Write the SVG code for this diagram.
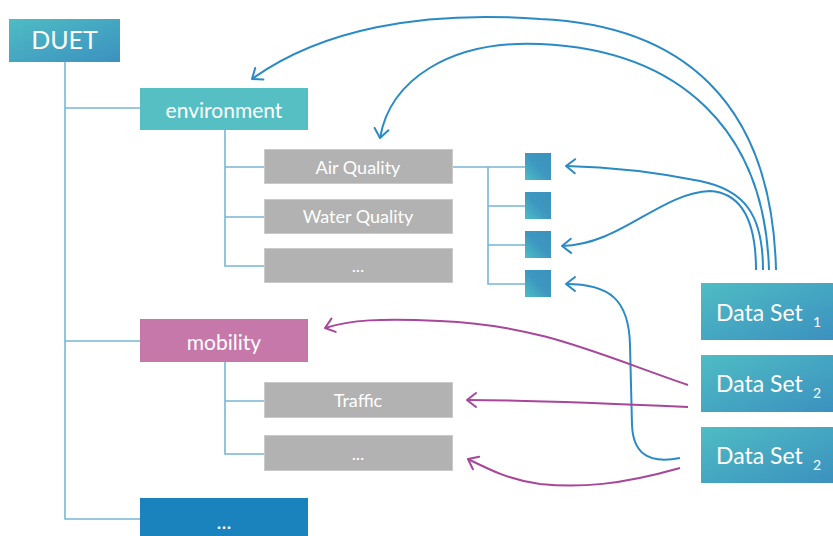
<svg xmlns="http://www.w3.org/2000/svg" width="833" height="536" viewBox="0 0 833 536">
  <defs>
    <linearGradient id="tealBlue" x1="0" y1="0" x2="1" y2="1">
      <stop offset="0" stop-color="#4fbcc4"/>
      <stop offset="1" stop-color="#3b91bf"/>
    </linearGradient>
    <linearGradient id="sqGrad" x1="0" y1="1" x2="1" y2="0">
      <stop offset="0" stop-color="#4dbcc5"/>
      <stop offset="0.5" stop-color="#3d97c0"/>
      <stop offset="1" stop-color="#3a93bf"/>
    </linearGradient>
    <marker id="arrowBlue" markerUnits="userSpaceOnUse" markerWidth="20" markerHeight="20" viewBox="-12 -10 14 20" refX="0" refY="0" orient="auto">
      <path d="M-9,-7 L0,0 L-9,7" fill="none" stroke="#2a8ac6" stroke-width="2" stroke-linecap="round" stroke-linejoin="round"/>
    </marker>
    <marker id="arrowMag" markerUnits="userSpaceOnUse" markerWidth="20" markerHeight="20" viewBox="-12 -10 14 20" refX="0" refY="0" orient="auto">
      <path d="M-9,-7 L0,0 L-9,7" fill="none" stroke="#a8479a" stroke-width="2" stroke-linecap="round" stroke-linejoin="round"/>
    </marker>
  </defs>
  <style>
    text { font-family: Lato, "Open Sans", sans-serif; fill: #ffffff; text-anchor: middle; }
    .tree { fill: none; stroke: #78b6d4; stroke-width: 1.6; }
    .grey { fill: #b2b2b2; stroke: #cacaca; stroke-width: 1; }
    .sq { fill: url(#sqGrad); }
    .ds { fill: url(#tealBlue); }
    .blue { fill: none; stroke: #2a8ac6; stroke-width: 2; marker-end: url(#arrowBlue); }
    .mag { fill: none; stroke: #a8479a; stroke-width: 2; marker-end: url(#arrowMag); }
    .big { font-size: 25px; }
    .mid { font-size: 21px; }
    .small { font-size: 18px; }
    .ds-label { font-size: 23px; text-anchor: start; }
    .sub { font-size: 14px; text-anchor: start; }
  </style>

  <!-- tree lines -->
  <g id="tree-lines">
    <path class="tree" d="M65,62 V519 H140 M65,108 H140 M65,341 H140"/>
    <path class="tree" d="M225,130 V266 H264 M225,167 H264 M225,217 H264"/>
    <path class="tree" d="M225,362 V454 H264 M225,401 H264"/>
    <path class="tree" d="M452,167 H488 V284 H525 M488,167 H525 M488,206 H525 M488,245 H525"/>
  </g>

  <!-- hierarchy nodes -->
  <g id="duet">
    <rect x="9" y="19" width="111" height="43" fill="url(#tealBlue)"/>
    <text class="big" x="64.5" y="49">DUET</text>
  </g>
  <g id="environment">
    <rect x="140" y="88" width="168" height="42" fill="#55bfc4"/>
    <text class="mid" x="224" y="118">environment</text>
  </g>
  <g id="air-quality">
    <rect class="grey" x="264.5" y="149.5" width="188" height="34"/>
    <text class="small" x="358" y="174">Air Quality</text>
  </g>
  <g id="water-quality">
    <rect class="grey" x="264.5" y="199.5" width="188" height="34"/>
    <text class="small" x="358" y="223">Water Quality</text>
  </g>
  <g id="env-more">
    <rect class="grey" x="264.5" y="248.5" width="188" height="34"/>
    <text class="small" x="358" y="272">...</text>
  </g>
  <g id="mobility">
    <rect x="140" y="319" width="168" height="43" fill="#c778ab"/>
    <text class="mid" x="224" y="350">mobility</text>
  </g>
  <g id="traffic">
    <rect class="grey" x="264.5" y="382.5" width="188" height="35"/>
    <text class="small" x="358" y="407">Traffic</text>
  </g>
  <g id="mobility-more">
    <rect class="grey" x="264.5" y="435.5" width="188" height="35"/>
    <text class="small" x="358" y="460">...</text>
  </g>
  <g id="domain-more">
    <rect x="140" y="498" width="168" height="40" fill="#1a82bd"/>
    <text class="mid" x="224" y="529">...</text>
  </g>

  <!-- air quality sensors -->
  <g id="sensor-1"><rect class="sq" x="525" y="153" width="26" height="27"/></g>
  <g id="sensor-2"><rect class="sq" x="525" y="192" width="26" height="27"/></g>
  <g id="sensor-3"><rect class="sq" x="525" y="231" width="26" height="27"/></g>
  <g id="sensor-4"><rect class="sq" x="525" y="270" width="26" height="27"/></g>

  <!-- data sets -->
  <g id="data-set-1">
    <rect class="ds" x="701" y="283" width="132" height="57"/>
    <text class="ds-label" x="716" y="321">Data Set</text>
    <text class="sub" x="813" y="327">1</text>
  </g>
  <g id="data-set-2">
    <rect class="ds" x="701" y="355" width="132" height="57"/>
    <text class="ds-label" x="716" y="392">Data Set</text>
    <text class="sub" x="813" y="398">2</text>
  </g>
  <g id="data-set-3">
    <rect class="ds" x="701" y="427" width="132" height="56"/>
    <text class="ds-label" x="716" y="464">Data Set</text>
    <text class="sub" x="813" y="470">2</text>
  </g>

  <!-- data set links -->
  <g id="connectors">
    <path class="blue" d="M776,270 C772,100 680,25 540,19 C420,10 320,30 252,79"/>
    <path class="blue" d="M769,270 C765,130 680,50 540,44 C450,40 390,80 380,138"/>
    <path class="blue" d="M763,270 C763,215 745,190 700,181 C660,173 610,167 566,166"/>
    <path class="blue" d="M756,270 C756,222 742,193 710,191 C660,193 620,245 562,246"/>
    <path class="blue" d="M680,458 C645,465 633,450 632,425 L630,345 C629,300 610,284 566,284"/>
    <path class="mag" d="M688,385 C600,355 540,325 440,321 C380,318 350,320 325,328"/>
    <path class="mag" d="M688,407 C600,403 520,400 467,400"/>
    <path class="mag" d="M680,468 C620,485 580,488 540,484 C510,480 490,470 468,459"/>
  </g>
</svg>
